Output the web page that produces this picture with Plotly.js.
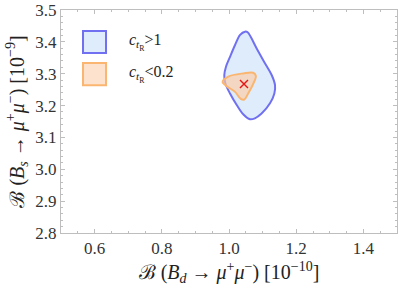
<!DOCTYPE html>
<html>
<head>
<meta charset="utf-8">
<script src="https://cdn.plot.ly/plotly-3.0.1.min.js"></script>
<style>html,body{margin:0;padding:0;background:#fff;}#chart{width:399px;height:289px;}</style>
</head>
<body>
<div id="chart"></div>
<script>
// Blue region (c_tR > 1) contour
const blueX = [1.0476, 1.033, 1.018, 1.003, 0.991, 0.986, 0.989, 1.003, 1.023, 1.043, 1.0625, 1.077, 1.097, 1.122, 1.135, 1.137, 1.127, 1.107, 1.082, 1.0645, 1.0556];
const blueY = [3.432, 3.422, 3.390, 3.353, 3.322, 3.296, 3.270, 3.238, 3.202, 3.172, 3.157, 3.160, 3.175, 3.207, 3.238, 3.264, 3.296, 3.333, 3.380, 3.416, 3.430];
// Orange region (c_tR < 0.2) contour
const orangeX = [0.981, 0.998, 1.0426, 1.072, 1.080, 1.072, 1.057, 1.0455, 1.035, 1.018, 0.993];
const orangeY = [3.275, 3.291, 3.301, 3.303, 3.293, 3.268, 3.238, 3.219, 3.221, 3.243, 3.261];
// Best-fit point
const bestX = [1.0446];
const bestY = [3.268];
// Axis ticks
const xTicks = [0.6, 0.8, 1.0, 1.2, 1.4];
const xTickText = ["0.6", "0.8", "1.0", "1.2", "1.4"];
const yTicks = [2.8, 2.9, 3.0, 3.1, 3.2, 3.3, 3.4, 3.5];
const yTickText = ["2.8", "2.9", "3.0", "3.1", "3.2", "3.3", "3.4", "3.5"];
const legendLabels = ["<i>c</i><sub><i>t</i><sub>R</sub></sub>>1", "<i>c</i><sub><i>t</i><sub>R</sub></sub><0.2"];

const blueLine = "rgb(112,112,240)";
const blueFill = "rgb(222,236,252)";
const orLine = "rgb(250,182,112)";
const orFill = "rgba(255,205,165,0.65)";

const closeX = a => a.concat([a[0]]);

const traces = [
  {x: closeX(blueX), y: closeX(blueY), mode: "lines", fill: "toself", fillcolor: blueFill,
   line: {color: blueLine, width: 2, shape: "spline", smoothing: 1}, hoverinfo: "skip", showlegend: false},
  {x: closeX(orangeX), y: closeX(orangeY), mode: "lines", fill: "toself", fillcolor: orFill,
   line: {color: orLine, width: 2, shape: "spline", smoothing: 1}, hoverinfo: "skip", showlegend: false},
  {x: bestX, y: bestY, mode: "markers", marker: {symbol: "x-thin", size: 8, line: {color: "rgb(230,20,20)", width: 1.4}},
   hoverinfo: "skip", showlegend: false}
];

const frame = "rgb(190,190,190)";
const fontSerif = "'Liberation Serif', 'Times New Roman', serif";

const layout = {
  width: 399, height: 289,
  margin: {l: 61, r: 2, t: 10, b: 56},
  paper_bgcolor: "#fff", plot_bgcolor: "#fff",
  font: {family: fontSerif, color: "#333", size: 17},
  xaxis: {
    range: [0.5, 1.5], tickvals: xTicks, ticktext: xTickText,
    showgrid: false, zeroline: false, showline: true, linecolor: frame, linewidth: 1,
    mirror: "allticks", ticks: "inside", ticklen: 4, tickcolor: frame, tickwidth: 1,
    minor: {dtick: 0.05, tick0: 0.5, ticks: "inside", ticklen: 2, tickcolor: frame, showgrid: false},
    tickfont: {family: fontSerif, size: 17, color: "#333"},
    title: {text: "ℬ (<i>B</i><sub><i>d</i></sub> → <i>μ</i><sup>+</sup><i>μ</i><sup>−</sup>) [10<sup>−10</sup>]",
            font: {family: fontSerif, size: 20, color: "#222"}, standoff: 7}
  },
  yaxis: {
    range: [2.8, 3.5], tickvals: yTicks, ticktext: yTickText,
    showgrid: false, zeroline: false, showline: true, linecolor: frame, linewidth: 1,
    mirror: "allticks", ticks: "inside", ticklen: 4, tickcolor: frame, tickwidth: 1,
    minor: {dtick: 0.02, tick0: 2.8, ticks: "inside", ticklen: 2, tickcolor: frame, showgrid: false},
    tickfont: {family: fontSerif, size: 17, color: "#333"},
    title: {text: "ℬ (<i>B</i><sub><i>s</i></sub> → <i>μ</i><sup>+</sup><i>μ</i><sup>−</sup>) [10<sup>−9</sup>]",
            font: {family: fontSerif, size: 20, color: "#222"}, standoff: 5}
  },
  shapes: [
    {type: "rect", xref: "paper", yref: "paper", x0: 0.0655, x1: 0.134, y0: 0.807, y1: 0.906,
     fillcolor: blueFill, line: {color: blueLine, width: 2}},
    {type: "rect", xref: "paper", yref: "paper", x0: 0.0655, x1: 0.134, y0: 0.663, y1: 0.762,
     fillcolor: "rgb(253,226,206)", line: {color: orLine, width: 2}}
  ],
  annotations: [
    {xref: "paper", yref: "paper", x: 0.196, y: 0.856, xanchor: "left", yanchor: "middle", showarrow: false,
     text: legendLabels[0], font: {family: fontSerif, size: 16, color: "#222"}},
    {xref: "paper", yref: "paper", x: 0.196, y: 0.713, xanchor: "left", yanchor: "middle", showarrow: false,
     text: legendLabels[1], font: {family: fontSerif, size: 16, color: "#222"}}
  ]
};

Plotly.newPlot("chart", traces, layout, {staticPlot: true, displayModeBar: false});
</script>
</body>
</html>
